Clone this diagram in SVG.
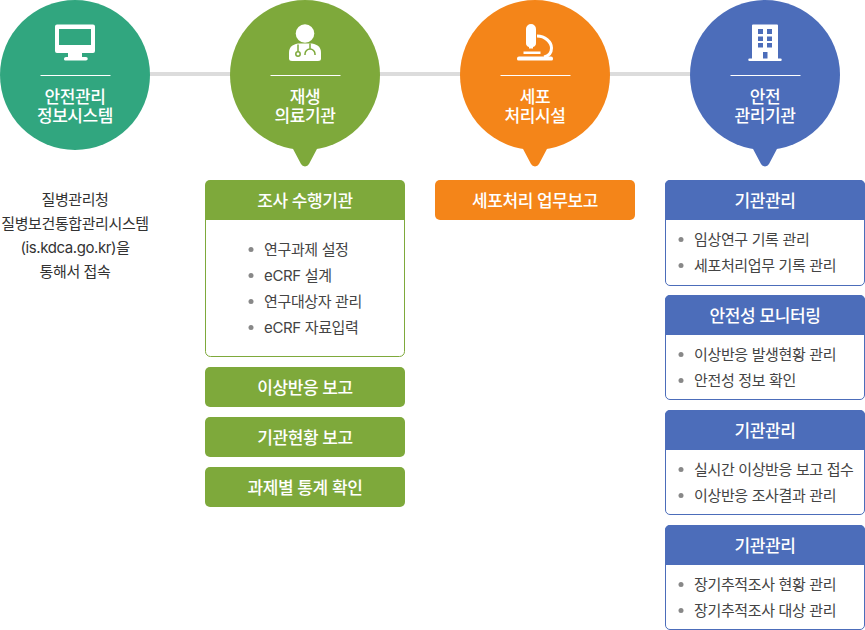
<svg xmlns="http://www.w3.org/2000/svg" width="865" height="630" viewBox="0 0 865 630">
<style>
text{font-family:"Inter","Noto Sans CJK KR","Noto Sans",sans-serif;text-anchor:middle}
.c{font-size:17px;fill:#fff;font-weight:500;letter-spacing:-.4px}
.h{font-size:17px;fill:#fff;font-weight:500;letter-spacing:-.4px}
.i{font-size:15px;fill:#444;text-anchor:start;letter-spacing:-.35px}
.n{font-size:15px;fill:#333;letter-spacing:-.4px}
.d{fill:#888}
.w{fill:#fff}
.rule{stroke:#fff;stroke-width:1}
</style>
<g id="connectors"><rect x="150" y="72" width="540" height="4" fill="#dcdcdc"/></g>
<g id="node-info">
<circle cx="75" cy="75" r="75" fill="#31a67f"/>
<path class="w" fill-rule="evenodd" d="M57 24.500h36a2 2 0 0 1 2 2v24.500a2 2 0 0 1-2 2H82v4h4a1.500 1.500 0 0 1 0 3.500H66a1.500 1.500 0 0 1-2-1.700q0-1.800 2-1.800h2v-4H57a2 2 0 0 1-2-2V26.500a2 2 0 0 1 2-2zM59 29v16h32V29z"/>
<path class="rule" d="M40.500 75.500h70"/>
<text class="c"><tspan x="75" y="103">안전관리</tspan><tspan x="75" y="122">정보시스템</tspan></text>
<text class="n"><tspan x="75" y="205">질병관리청</tspan><tspan x="75" y="229">질병보건통합관리시스템</tspan><tspan x="75" y="253">(is.kdca.go.kr)을</tspan><tspan x="75" y="277">통해서 접속</tspan></text>
</g>
<g id="node-medical">
<circle cx="305" cy="75" r="75" fill="#7ea93b"/>
<path d="M292 147h26l-9 17a4.500 4.500 0 0 1-8 0z" fill="#7ea93b"/>
<circle class="w" cx="305" cy="33.500" r="9.300"/>
<path class="w" d="M298 43.500h14c6 1 9 4 9 9v6q0 2.500-3 2.500h-26q-3 0-3-2.500v-6c0-5 3-8 9-9z"/>
<g fill="none" stroke="#7ea93b" stroke-width="1.500"><circle cx="298" cy="54" r="2.200"/><path d="M298 51.500v-7M305 55v-1a5 5 0 0 1 10 0v1M310 49v-5.500"/></g>
<path class="rule" d="M270.500 75.500h70"/>
<text class="c"><tspan x="305" y="103">재생</tspan><tspan x="305" y="122">의료기관</tspan></text>
<path d="M205.500 219.500v132a5 5 0 0 0 5 5h189a5 5 0 0 0 5-5v-132" fill="#fff" stroke="#7ea93b"/>
<path d="M205 185a5 5 0 0 1 5-5h190a5 5 0 0 1 5 5v35H205z" fill="#7ea93b"/>
<text class="h" x="305" y="207">조사 수행기관</text>
<circle class="d" cx="251" cy="249.500" r="2.500"/><text class="i" x="264" y="254.500">연구과제 설정</text>
<circle class="d" cx="251" cy="275.500" r="2.500"/><text class="i" x="264" y="280.500">eCRF 설계</text>
<circle class="d" cx="251" cy="301.500" r="2.500"/><text class="i" x="264" y="306.500">연구대상자 관리</text>
<circle class="d" cx="251" cy="327.500" r="2.500"/><text class="i" x="264" y="332.500">eCRF 자료입력</text>
<rect x="205" y="367" width="200" height="40" rx="5" fill="#7ea93b"/><text class="h" x="305" y="394">이상반응 보고</text>
<rect x="205" y="417" width="200" height="40" rx="5" fill="#7ea93b"/><text class="h" x="305" y="444">기관현황 보고</text>
<rect x="205" y="467" width="200" height="40" rx="5" fill="#7ea93b"/><text class="h" x="305" y="494">과제별 통계 확인</text>
</g>
<g id="node-cell">
<circle cx="535" cy="75" r="75" fill="#f48519"/>
<path d="M522 147h26l-9 17a4.500 4.500 0 0 1-8 0z" fill="#f48519"/>
<path class="w" d="M526 29a5 5 0 0 1 10 0v14a4 4 0 0 1-3 4v1.500h-4V47a4 4 0 0 1-3-4z"/>
<path fill="none" stroke="#fff" stroke-width="3" d="M537 36c8 0 14.500 6 14.500 12 0 5-3 8-7.500 9"/>
<path class="w" d="M523.500 51.500h17v2.500h-17zM517 58.500a2 2 0 0 1 2-2h32a2 2 0 0 1 2 2v.5a1.500 1.500 0 0 1-1.500 1.500h-33a1.500 1.500 0 0 1-1.500-1.500z"/>
<path class="rule" d="M500.500 75.500h70"/>
<text class="c"><tspan x="535" y="103">세포</tspan><tspan x="535" y="122">처리시설</tspan></text>
<rect x="435" y="180" width="200" height="40" rx="5" fill="#f48519"/><text class="h" x="535" y="207">세포처리 업무보고</text>
</g>
<g id="node-safety">
<circle cx="765" cy="75" r="75" fill="#4c6dba"/>
<path d="M752 147h26l-9 17a4.500 4.500 0 0 1-8 0z" fill="#4c6dba"/>
<path class="w" fill-rule="evenodd" d="M753 24.500h24q1 0 1 1V58.500h2.500a1 1 0 0 1 0 2.500h-31a1 1 0 0 1 0-2.500h2.500V25.500q0-1 1-1zM758 29v5h5v-5zM767 29v5h5v-5zM758 36.500v4.500h5v-4.500zM767 36.500v4.500h5v-4.500zM758 43v4.500h5v-4.500zM767 43v4.500h5v-4.500zM763 52v6.500h4.500v-6.500z"/>
<path class="rule" d="M730.500 75.500h70"/>
<text class="c"><tspan x="765" y="103">안전</tspan><tspan x="765" y="122">관리기관</tspan></text>
<rect x="665.500" y="180.500" width="199" height="105" rx="4.500" fill="#fff" stroke="#4c6dba"/>
<path d="M665 185a5 5 0 0 1 5-5h190a5 5 0 0 1 5 5v35H665z" fill="#4c6dba"/>
<text class="h" x="765" y="207">기관관리</text>
<circle class="d" cx="681" cy="239.500" r="2.500"/><text class="i" x="694" y="244.500">임상연구 기록 관리</text>
<circle class="d" cx="681" cy="265.500" r="2.500"/><text class="i" x="694" y="270.500">세포처리업무 기록 관리</text>
<rect x="665.500" y="295.500" width="199" height="104" rx="4.500" fill="#fff" stroke="#4c6dba"/>
<path d="M665 300a5 5 0 0 1 5-5h190a5 5 0 0 1 5 5v35H665z" fill="#4c6dba"/>
<text class="h" x="765" y="322">안전성 모니터링</text>
<circle class="d" cx="681" cy="354.500" r="2.500"/><text class="i" x="694" y="359.500">이상반응 발생현황 관리</text>
<circle class="d" cx="681" cy="380.500" r="2.500"/><text class="i" x="694" y="385.500">안전성 정보 확인</text>
<rect x="665.500" y="410.500" width="199" height="104" rx="4.500" fill="#fff" stroke="#4c6dba"/>
<path d="M665 415a5 5 0 0 1 5-5h190a5 5 0 0 1 5 5v35H665z" fill="#4c6dba"/>
<text class="h" x="765" y="437">기관관리</text>
<circle class="d" cx="681" cy="469.500" r="2.500"/><text class="i" x="694" y="474.500">실시간 이상반응 보고 접수</text>
<circle class="d" cx="681" cy="495.500" r="2.500"/><text class="i" x="694" y="500.500">이상반응 조사결과 관리</text>
<rect x="665.500" y="525.500" width="199" height="104" rx="4.500" fill="#fff" stroke="#4c6dba"/>
<path d="M665 530a5 5 0 0 1 5-5h190a5 5 0 0 1 5 5v35H665z" fill="#4c6dba"/>
<text class="h" x="765" y="552">기관관리</text>
<circle class="d" cx="681" cy="584.500" r="2.500"/><text class="i" x="694" y="589.500">장기추적조사 현황 관리</text>
<circle class="d" cx="681" cy="610.500" r="2.500"/><text class="i" x="694" y="615.500">장기추적조사 대상 관리</text>
</g>
</svg>
